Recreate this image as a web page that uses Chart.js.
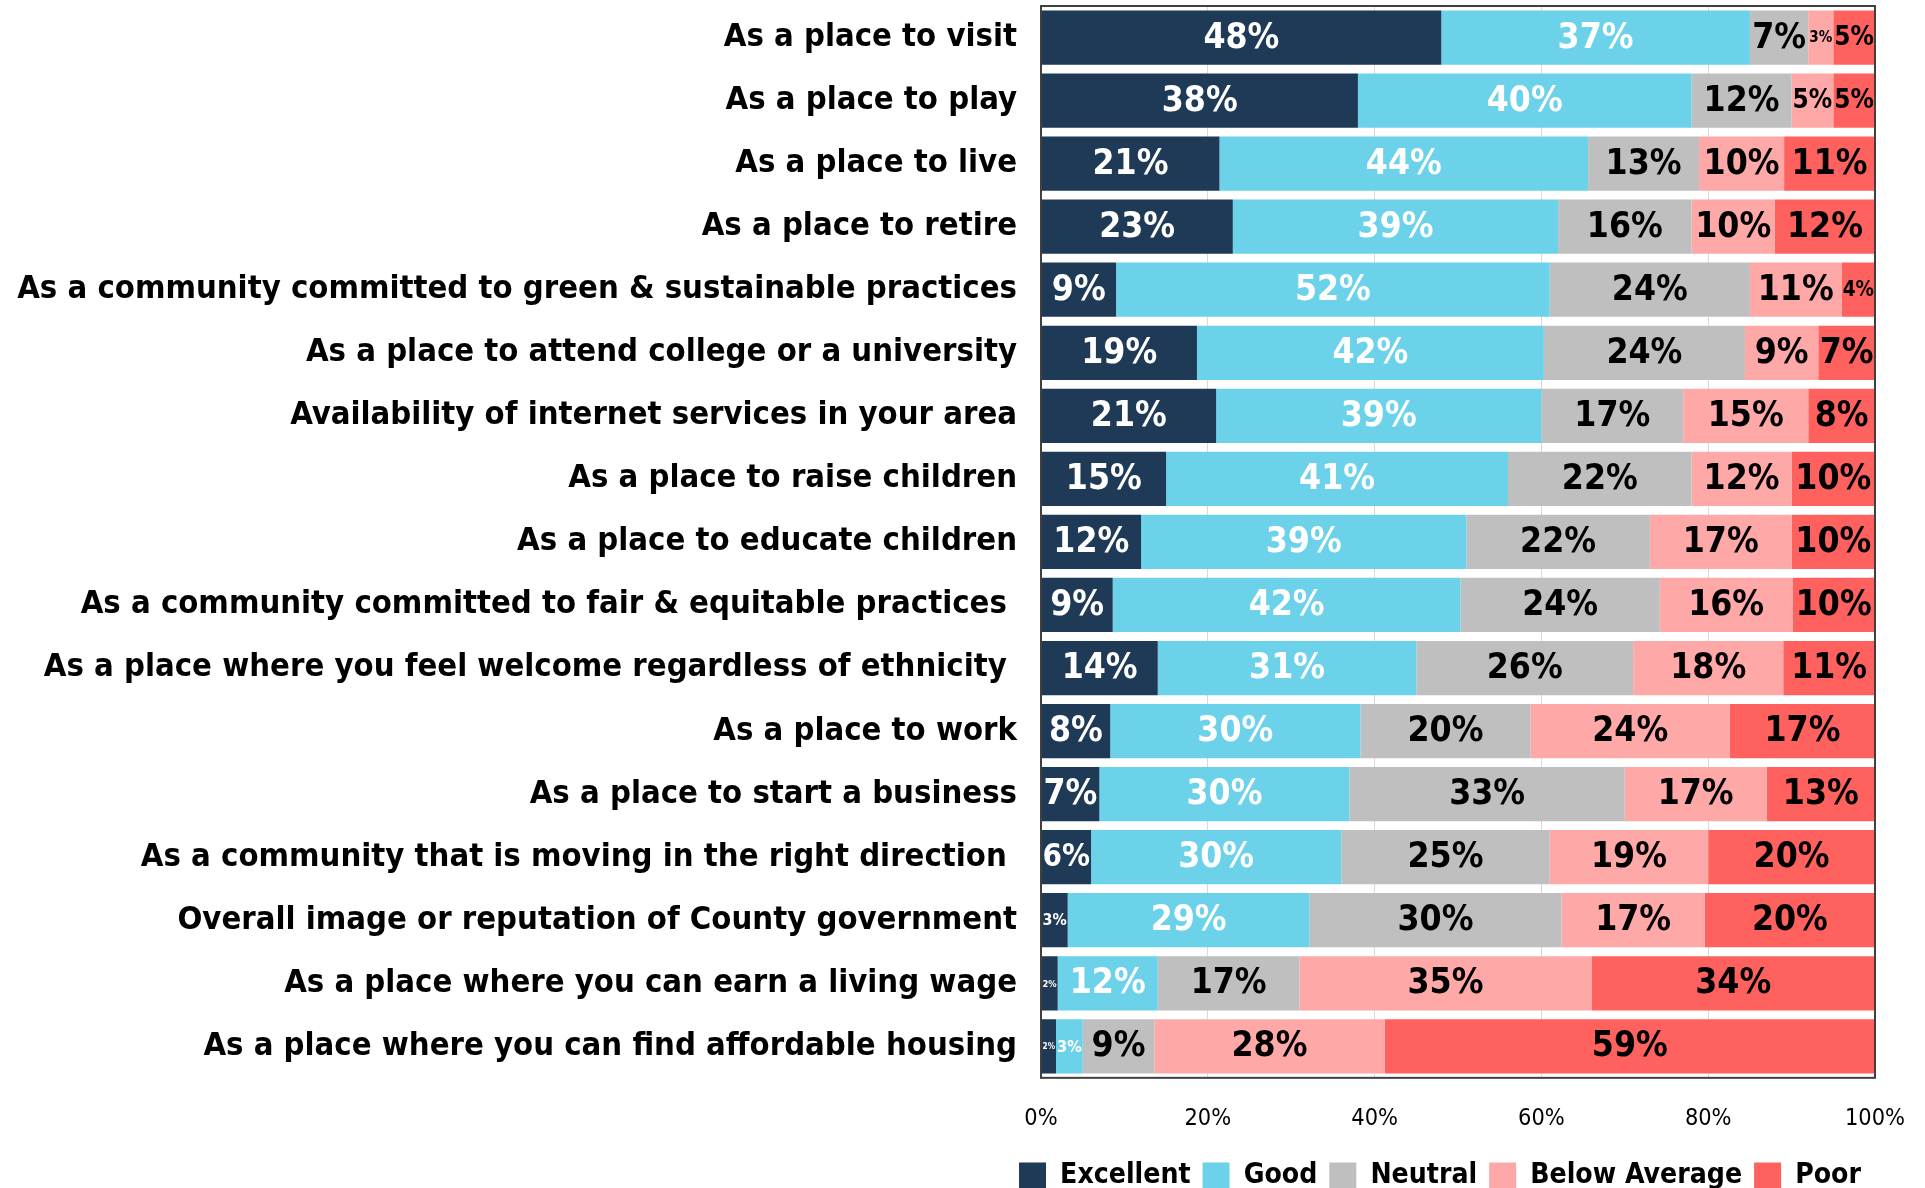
<!DOCTYPE html>
<html>
<head>
<meta charset="utf-8">
<script src="https://cdn.jsdelivr.net/npm/chart.js@4/dist/chart.umd.min.js"></script>
<style>
html, body { margin: 0; padding: 0; background: #fff; }
#wrap { width: 1925px; height: 1188px; }
</style>
</head>
<body>
<div id="wrap"><canvas id="ratingChart"></canvas></div>
<script>
var categories = [
    'As a place to visit',
    'As a place to play',
    'As a place to live',
    'As a place to retire',
    'As a community committed to green & sustainable practices',
    'As a place to attend college or a university',
    'Availability of internet services in your area',
    'As a place to raise children',
    'As a place to educate children',
    'As a community committed to fair & equitable practices ',
    'As a place where you feel welcome regardless of ethnicity ',
    'As a place to work',
    'As a place to start a business',
    'As a community that is moving in the right direction ',
    'Overall image or reputation of County government',
    'As a place where you can earn a living wage',
    'As a place where you can find affordable housing'
];

var excellent    = [48, 38, 21.4, 23, 9, 18.7, 21, 15, 12, 8.6, 14, 8.3, 7, 6, 3.2, 2, 1.8];
var good         = [37, 40, 44.2, 39, 52, 41.6, 39, 41, 39, 41.7, 31, 30, 30, 30, 29, 12, 3.2];
var neutral      = [7, 12, 13.3, 16, 24, 24.1, 17, 22, 22, 23.9, 26, 20.4, 33, 25, 30.2, 17, 8.6];
var belowAverage = [3, 5, 10.2, 10, 11, 8.8, 15, 12, 17, 15.9, 18, 23.9, 17, 19, 17.2, 35, 27.6];
var poor         = [5, 5, 10.9, 12, 4, 6.8, 8, 10, 10, 9.9, 11, 17.4, 13, 20, 20.4, 34, 58.8];

var seriesNames = ['Excellent', 'Good', 'Neutral', 'Below Average', 'Poor'];
var xTicks = [0, 20, 40, 60, 80, 100];

var colors = ['#1F3A56', '#6BD2EA', '#BFBFBF', '#FFA8A8', '#FF625E'];
var labelColors = ['#FFFFFF', '#FFFFFF', '#000000', '#000000', '#000000'];

// pick a narrow font if one is installed (the original used Calibri)
var probe = document.createElement('canvas').getContext('2d');
function textWidth(font, text) {
    probe.font = font;
    return probe.measureText(text).width;
}
function hasFont(name) {
    var s = 'As a community committed 0123456789%';
    return textWidth('bold 40px monospace', s) !== textWidth('bold 40px "' + name + '", monospace', s) ||
        textWidth('bold 40px serif', s) !== textWidth('bold 40px "' + name + '", serif', s);
}
var FONT = ['Liberation Sans Narrow', 'DejaVu Sans Condensed', 'Arial Narrow', 'Roboto Condensed', 'Lato']
    .filter(hasFont).concat(['sans-serif'])[0];
FONT = '"' + FONT + '", sans-serif';

// size each text role so it spans roughly the width it has in the original
function fitSize(weight, text, target) {
    return 40 * target / textWidth(weight + ' 40px ' + FONT, text);
}
var yFont = fitSize('bold', categories[4], 1000);
var valueFont = fitSize('bold', '48%', 76);
var legendFont = fitSize('bold', 'Below Average', 212);
var tickFont = fitSize('normal', '100%', 60);

// writes the rounded value in the middle of each segment, shrinking it when the segment is narrow
var barLabels = {
    id: 'barLabels',
    afterDatasetsDraw: function (chart) {
        var ctx = chart.ctx;
        ctx.save();
        ctx.textAlign = 'center';
        ctx.textBaseline = 'middle';
        chart.data.datasets.forEach(function (ds, i) {
            chart.getDatasetMeta(i).data.forEach(function (bar, j) {
                var w = Math.abs(bar.x - bar.base);
                var text = Math.round(ds.data[j]) + '%';
                var size = valueFont;
                ctx.font = 'bold ' + size + 'px ' + FONT;
                var tw = ctx.measureText(text).width;
                if (tw > w - 2) {
                    size = Math.max(8, size * (w - 2) / tw);
                    ctx.font = 'bold ' + size + 'px ' + FONT;
                }
                ctx.fillStyle = labelColors[i];
                ctx.fillText(text, (bar.x + bar.base) / 2, bar.y + 1);
            });
        });
        ctx.restore();
    }
};

var plotFrame = {
    id: 'plotFrame',
    afterDraw: function (chart) {
        var a = chart.chartArea, ctx = chart.ctx;
        ctx.save();
        ctx.strokeStyle = '#404040';
        ctx.lineWidth = 2;
        ctx.strokeRect(a.left, a.top, a.right - a.left, a.bottom - a.top);
        ctx.restore();
    }
};

// a bit of slack on the legend row so "Poor" does not wrap onto a hidden second line
var legendNudge = {
    id: 'legendNudge',
    afterLayout: function (chart) {
        if (chart.legend && chart.legend.lineWidths) {
            chart.legend.lineWidths = chart.legend.lineWidths.map(function (w) { return w + 2; });
        }
    }
};

var seriesData = [excellent, good, neutral, belowAverage, poor];

new Chart(document.getElementById('ratingChart'), {
    type: 'bar',
    data: {
        labels: categories,
        datasets: seriesNames.map(function (name, i) {
            return {
                label: name,
                data: seriesData[i],
                backgroundColor: colors[i],
                borderWidth: 0,
                barPercentage: 0.86,
                categoryPercentage: 1.0
            };
        })
    },
    options: {
        indexAxis: 'y',
        responsive: true,
        maintainAspectRatio: false,
        animation: false,
        layout: { padding: { top: 6, right: 50, bottom: -12, left: 0 } },
        scales: {
            x: {
                stacked: true,
                min: 0,
                max: 100,
                afterBuildTicks: function (scale) {
                    scale.ticks = xTicks.map(function (v) { return { value: v }; });
                },
                afterFit: function (scale) {
                    scale.height = 72;
                    scale.paddingLeft = 0;
                    scale.paddingRight = 0;
                },
                ticks: {
                    callback: function (v) { return v + '%'; },
                    color: '#000',
                    font: { family: FONT, size: tickFont },
                    padding: 27
                },
                grid: { color: '#D9D9D9', lineWidth: 1, drawTicks: false },
                border: { display: false }
            },
            y: {
                stacked: true,
                afterFit: function (scale) {
                    scale.width = 1041;
                    scale.paddingTop = 0;
                    scale.paddingBottom = 0;
                },
                ticks: {
                    color: '#000',
                    font: { family: FONT, size: yFont, weight: 'bold' },
                    padding: 24,
                    autoSkip: false
                },
                grid: { display: false, drawTicks: false },
                border: { display: false }
            }
        },
        plugins: {
            legend: {
                position: 'bottom',
                align: 'end',
                labels: {
                    color: '#000',
                    font: { family: FONT, size: legendFont, weight: 'bold' },
                    boxWidth: 27,
                    boxHeight: 27,
                    padding: 12
                }
            },
            tooltip: { enabled: false }
        }
    },
    plugins: [barLabels, plotFrame, legendNudge]
});
</script>
</body>
</html>
